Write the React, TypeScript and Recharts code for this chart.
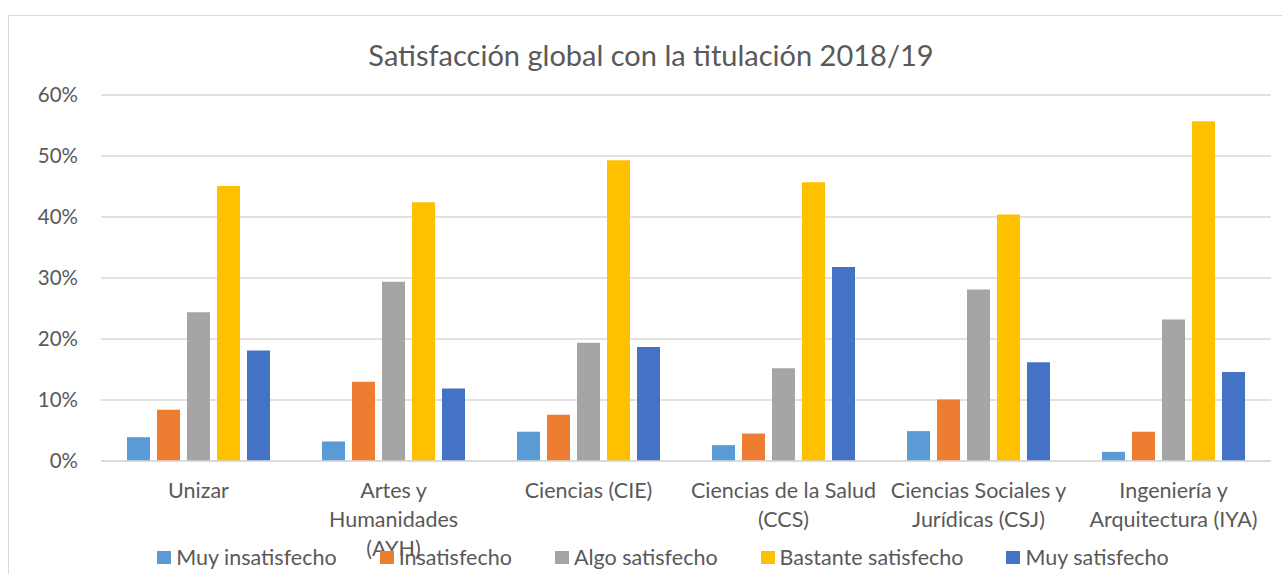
import React from "react";
import {
  BarChart,
  Bar,
  XAxis,
  YAxis,
  CartesianGrid,
  Legend,
} from "recharts";

// Categorías (facultades) y sus etiquetas partidas en líneas como en el original
const categorias = [
  "Unizar",
  "Artes y Humanidades (AYH)",
  "Ciencias (CIE)",
  "Ciencias de la Salud (CCS)",
  "Ciencias Sociales y Jurídicas (CSJ)",
  "Ingeniería y Arquitectura (IYA)",
];
const etiquetas: string[][] = [
  ["Unizar"],
  ["Artes y", "Humanidades", "(AYH)"],
  ["Ciencias (CIE)"],
  ["Ciencias de la Salud", "(CCS)"],
  ["Ciencias Sociales y", "Jurídicas (CSJ)"],
  ["Ingeniería y", "Arquitectura (IYA)"],
];

// Porcentajes
const muyInsatisfecho = [3.9, 3.2, 4.8, 2.6, 4.9, 1.5];
const insatisfecho = [8.4, 13.0, 7.6, 4.5, 10.1, 4.8];
const algoSatisfecho = [24.4, 29.4, 19.4, 15.2, 28.1, 23.2];
const bastanteSatisfecho = [45.1, 42.4, 49.3, 45.7, 40.4, 55.7];
const muySatisfecho = [18.1, 11.9, 18.7, 31.8, 16.2, 14.6];

const yTicks = [0, 10, 20, 30, 40, 50, 60];

const data = categorias.map((c, i) => ({
  categoria: c,
  muyInsatisfecho: muyInsatisfecho[i],
  insatisfecho: insatisfecho[i],
  algoSatisfecho: algoSatisfecho[i],
  bastanteSatisfecho: bastanteSatisfecho[i],
  muySatisfecho: muySatisfecho[i],
}));

// Series en el orden de la leyenda
const series = [
  { key: "muyInsatisfecho", name: "Muy insatisfecho", color: "#5B9BD5" },
  { key: "insatisfecho", name: "Insatisfecho", color: "#ED7D31" },
  { key: "algoSatisfecho", name: "Algo satisfecho", color: "#A5A5A5" },
  { key: "bastanteSatisfecho", name: "Bastante satisfecho", color: "#FFC000" },
  { key: "muySatisfecho", name: "Muy satisfecho", color: "#4472C4" },
];

const FONT = "Lato, 'Open Sans', sans-serif";
const GRIS_TEXTO = "#595959";

const CategoryTick = (props: any) => {
  const { x, y, payload } = props;
  const idx = categorias.indexOf(payload.value);
  const lineas = idx >= 0 ? etiquetas[idx] : [payload.value];
  return (
    <g transform={`translate(${x},${y})`}>
      <text
        textAnchor="middle"
        fill={GRIS_TEXTO}
        fontSize={21.5}
        fontFamily={FONT}
      >
        {lineas.map((l, i) => (
          <tspan key={i} x={0} dy={i === 0 ? 37 : 29}>
            {l}
          </tspan>
        ))}
      </text>
    </g>
  );
};

const renderLegend = () => (
  <div
    style={{
      display: "flex",
      justifyContent: "center",
      gap: 43,
      fontFamily: FONT,
      fontSize: 21.5,
      color: GRIS_TEXTO,
      lineHeight: "26px",
    }}
  >
    {series.map((s) => (
      <div key={s.key} style={{ display: "flex", alignItems: "center", gap: 5 }}>
        <span
          style={{
            width: 14,
            height: 13,
            background: s.color,
            display: "inline-block",
          }}
        />
        <span>{s.name}</span>
      </div>
    ))}
  </div>
);

export default function App() {
  return (
    <div
      style={{
        position: "fixed",
        left: 0,
        top: 0,
        width: 1282,
        height: 574,
        overflow: "hidden",
        background: "#ffffff",
      }}
    >
      {/* marco del gráfico (cortado a la derecha y abajo) */}
      <div
        style={{
          position: "absolute",
          left: 8,
          top: 15,
          width: 1300,
          height: 600,
          border: "1px solid #d9d9d9",
        }}
      />
      <div
        style={{
          position: "absolute",
          left: 0,
          top: 37,
          width: 1302,
          textAlign: "center",
          fontFamily: FONT,
          fontSize: 29,
          lineHeight: "35px",
          color: GRIS_TEXTO,
        }}
      >
        Satisfacción global con la titulación 2018/19
      </div>
      <div style={{ position: "absolute", left: 0, top: 0 }}>
        <BarChart
          width={1282}
          height={574}
          data={data}
          margin={{ top: 95, right: 11, left: 0, bottom: 73 }}
          barSize={23}
          barGap={7}
        >
          <CartesianGrid vertical={false} stroke="#d9d9d9" strokeWidth={1.5} />
          <XAxis
            dataKey="categoria"
            tickLine={false}
            axisLine={{ stroke: "#d9d9d9", strokeWidth: 1.5 }}
            tick={<CategoryTick />}
            height={40}
            interval={0}
            tickSize={0}
            tickMargin={0}
          />
          <YAxis
            width={101}
            domain={[0, 60]}
            ticks={yTicks}
            tickFormatter={(v: number) => `${v}%`}
            axisLine={false}
            tickLine={false}
            tickMargin={17}
            tick={{ fill: GRIS_TEXTO, fontSize: 20.5, fontFamily: FONT }}
          />
          <Legend
            verticalAlign="middle"
            align="center"
            content={renderLegend}
            wrapperStyle={{ top: 544, left: 22, width: 1282 }}
          />
          {series.map((s) => (
            <Bar
              key={s.key}
              dataKey={s.key}
              name={s.name}
              fill={s.color}
              isAnimationActive={false}
            />
          ))}
        </BarChart>
      </div>
    </div>
  );
}
